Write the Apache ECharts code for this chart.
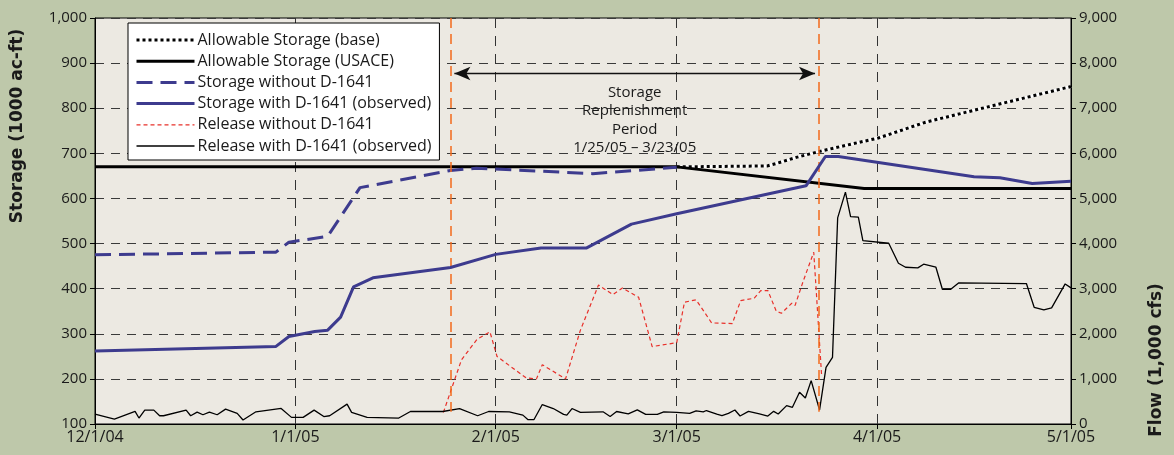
<!DOCTYPE html>
<html>
<head>
<meta charset="utf-8">
<script src="https://cdn.jsdelivr.net/npm/echarts@6/dist/echarts.min.js"></script>
<style>
html,body{margin:0;padding:0;background:#bec8aa;}
#chart{width:1174px;height:455px;}
</style>
</head>
<body>
<div id="chart"></div>
<script>
// x values are days after 12/1/04
const tickDays = [0, 31, 62, 90, 121, 151];
const tickLabels = ['12/1/04', '1/1/05', '2/1/05', '3/1/05', '4/1/05', '5/1/05'];

const storWithDays = [0, 28, 30, 34, 36, 38, 40, 43, 55, 62, 69, 76, 83, 90, 110, 113, 115, 136, 140, 145, 151];
const storWithVals = [262, 272, 294, 305, 308, 337, 404, 424, 447, 476, 490, 490, 543, 566, 628, 693, 693, 648, 646, 633, 638];

const storWithoutDays = [0, 28, 30, 36, 41, 55, 59, 77, 90];
const storWithoutVals = [475, 481, 503, 516, 624, 662, 667, 655, 669];

const usaceDays = [0, 90, 119, 151];
const usaceVals = [670, 670, 622, 622];

const baseDays = [90, 104, 105.3, 108.5, 112.6, 121.2, 128.5, 139, 151];
const baseVals = [670, 672, 677, 691, 706, 734, 769, 806, 848];

const relNoDays = [53.9, 56.7, 59.1, 61.1, 62.2, 66.7, 68.3, 69.2, 72.8, 75.1, 77.9, 80.1, 81.6, 84.1, 86.2, 90, 91.2, 93, 95.4, 98.6, 99.9, 102, 103, 104.1, 105.4, 106.2, 107.8, 108.3, 109.6, 111.2, 111.5, 112.4];
const relNoVals = [256, 1424, 1876, 2044, 1497, 1022, 1000, 1314, 1000, 2081, 3081, 2869, 3015, 2811, 1716, 1803, 2701, 2752, 2241, 2227, 2736, 2788, 2958, 2958, 2499, 2455, 2677, 2625, 3179, 3808, 3142, 1109];

const relDays = [0, 3, 6.2, 6.8, 7.7, 9.1, 10, 10.6, 14.1, 14.8, 15.8, 16.7, 17.7, 18.9, 20.2, 22, 22.9, 24.9, 28.8, 30.4, 32.2, 33.9, 35.4, 36.3, 39, 39.7, 42.1, 47, 48.8, 53.8, 56.4, 59.2, 60.9, 64.1, 66.2, 67, 67.9, 69.2, 70.9, 72.5, 73, 73.8, 75.1, 78.6, 79.7, 80.7, 82.5, 83.9, 85.2, 87, 88, 90, 92, 93, 94.1, 94.6, 96.2, 97, 98, 99, 99.8, 101.1, 102.8, 104.1, 105, 105.7, 107, 107.9, 109, 109.9, 110.8, 112.1, 113.1, 114.1, 114.9, 116.1, 116.9, 118.1, 118.8, 122.8, 124.3, 125.4, 127.3, 128.2, 130.1, 131.1, 132.4, 133.6, 144.1, 145.3, 146.8, 148, 150.1, 151];
const relVals = [220, 110, 279, 132, 308, 308, 183, 183, 308, 183, 264, 205, 264, 205, 330, 235, 88, 271, 345, 147, 147, 308, 165, 183, 440, 257, 147, 132, 277, 277, 343, 183, 277, 270, 197, 95, 95, 431, 343, 212, 197, 343, 256, 270, 168, 277, 226, 314, 212, 212, 270, 256, 234, 292, 270, 299, 219, 185, 237, 311, 177, 281, 222, 177, 281, 222, 407, 370, 702, 577, 961, 311, 1257, 1479, 4569, 5139, 4599, 4584, 4067, 4007, 3564, 3475, 3460, 3542, 3475, 2987, 2987, 3128, 3113, 2588, 2529, 2573, 3105, 3017];

// replenishment period markers (days) and annotation
const periodStart = 55;   // 1/25/05
const periodEnd = 112;    // 3/23/05
const periodText = 'Storage\nReplenishment\nPeriod\n1/25/05 – 3/23/05';

const names = ['Allowable Storage (base)', 'Allowable Storage (USACE)', 'Storage without D-1641',
  'Storage with D-1641 (observed)', 'Release without D-1641', 'Release with D-1641 (observed)'];

const pairs = (d, v) => d.map((x, i) => [x, v[i]]);
const FONT = 'Open Sans';
const TXT = '#1a1a1a';
const BLUE = '#3d3b8e';
const fmt = v => v.toLocaleString('en-US');

const legendLines = [
  {color: '#000', width: 3, type: [3, 3]},
  {color: '#000', width: 3, type: 'solid'},
  {color: BLUE, width: 3, type: [16, 8]},
  {color: BLUE, width: 3, type: 'solid'},
  {color: '#e8302a', width: 1.2, type: [4, 3]},
  {color: '#000', width: 1.3, type: 'solid'}
];

const chart = echarts.init(document.getElementById('chart'), null, {renderer: 'canvas'});
chart.setOption({
  backgroundColor: '#bec8aa',
  animation: false,
  textStyle: {fontFamily: FONT, color: TXT},
  grid: {left: 95, right: 103, top: 18, bottom: 31, show: true, backgroundColor: '#ece9e2', borderColor: '#000', borderWidth: 1},
  legend: {
    data: names.map((n, i) => ({name: n, lineStyle: legendLines[i], itemStyle: {opacity: 0}})),
    orient: 'vertical', left: 128, top: 23,
    backgroundColor: '#fff', borderColor: '#000', borderWidth: 1,
    padding: [9, 8, 6, 7], itemWidth: 58, itemHeight: 12, itemGap: 5.2,
    itemStyle: {opacity: 0},
    textStyle: {fontFamily: FONT, fontSize: 16, color: TXT, padding: [0, 0, 0, -2]}
  },
  xAxis: {
    type: 'value', min: 0, max: 151,
    axisLine: {show: true, lineStyle: {color: '#000', width: 1}},
    axisTick: {show: true, customValues: tickDays, length: 5, lineStyle: {color: '#000'}},
    axisLabel: {customValues: tickDays, formatter: v => tickLabels[tickDays.indexOf(v)], fontSize: 16, color: TXT, margin: 5, fontFamily: FONT},
    splitLine: {show: true, lineStyle: {type: [10, 8], color: '#333', width: 1}}
  },
  yAxis: [{
    type: 'value', min: 100, max: 1000, interval: 100,
    axisLine: {show: true, lineStyle: {color: '#000'}},
    axisTick: {show: true, length: 5, lineStyle: {color: '#000'}},
    axisLabel: {formatter: fmt, fontSize: 15, color: TXT, margin: 8, fontFamily: FONT},
    splitLine: {show: true, lineStyle: {type: [9, 7], color: '#3a3a3a', width: 1}}
  }, {
    type: 'value', min: 0, max: 9000, interval: 1000, position: 'right',
    axisLine: {show: true, lineStyle: {color: '#000'}},
    axisTick: {show: true, length: 5, lineStyle: {color: '#000'}},
    axisLabel: {formatter: fmt, fontSize: 15, color: TXT, margin: 8, fontFamily: FONT},
    splitLine: {show: false}
  }],
  graphic: [
    {type: 'text', x: 18, y: 126, rotation: Math.PI / 2,
     style: {text: 'Storage (1000 ac-ft)', font: 'bold 17px "DejaVu Sans"', fill: TXT, align: 'center', verticalAlign: 'middle'}},
    {type: 'text', x: 1157, y: 360, rotation: Math.PI / 2,
     style: {text: 'Flow (1,000 cfs)', font: 'bold 17px "DejaVu Sans"', fill: TXT, align: 'center', verticalAlign: 'middle'}}
  ],
  series: [
    {name: 'baseUnder', type: 'line', yAxisIndex: 0, data: pairs(baseDays, baseVals), symbol: 'none',
     lineStyle: {color: '#fff', width: 3}, silent: true, z: 2},
    {name: names[0], type: 'line', yAxisIndex: 0, data: pairs(baseDays, baseVals), symbol: 'none',
     lineStyle: legendLines[0], itemStyle: {color: '#000'}, z: 3},
    {name: names[1], type: 'line', yAxisIndex: 0, data: pairs(usaceDays, usaceVals), symbol: 'none',
     lineStyle: legendLines[1], itemStyle: {color: '#000'}, z: 4},
    {name: names[2], type: 'line', yAxisIndex: 0, data: pairs(storWithoutDays, storWithoutVals), symbol: 'none',
     lineStyle: legendLines[2], itemStyle: {color: BLUE}, z: 4},
    {name: names[3], type: 'line', yAxisIndex: 0, data: pairs(storWithDays, storWithVals), symbol: 'none',
     lineStyle: legendLines[3], itemStyle: {color: BLUE}, z: 5,
     markLine: {
       silent: true, symbol: 'none', animation: false,
       lineStyle: {color: '#f26a1b', width: 1.5, type: [10, 6]},
       label: {show: false},
       data: [
         [{coord: [periodStart, 1000]}, {coord: [periodStart, 127]}],
         [{coord: [periodEnd, 1000]}, {coord: [periodEnd, 127]}],
         [{coord: [periodStart + 0.6, 877], symbol: 'arrow', symbolSize: [10, 16], symbolRotate: 90,
           lineStyle: {color: '#111', width: 1.3, type: 'solid'}},
          {coord: [periodEnd - 0.6, 877], symbol: 'arrow', symbolSize: [10, 16], symbolRotate: -90}]
       ]
     },
     markPoint: {
       silent: true, animation: false,
       data: [{coord: [(periodStart + periodEnd) / 2, 773], symbol: 'circle', symbolSize: 1,
               itemStyle: {color: 'rgba(0,0,0,0)'},
               label: {show: true, position: 'inside', formatter: periodText, fontSize: 15, lineHeight: 18.5, color: TXT, fontFamily: FONT}}]
     }},
    {name: names[4], type: 'line', yAxisIndex: 1, data: pairs(relNoDays, relNoVals), symbol: 'none',
     lineStyle: legendLines[4], itemStyle: {color: '#e8302a'}, z: 3},
    {name: names[5], type: 'line', yAxisIndex: 1, data: pairs(relDays, relVals), symbol: 'none',
     lineStyle: legendLines[5], itemStyle: {color: '#000'}, z: 3}
  ]
});
</script>
</body>
</html>
